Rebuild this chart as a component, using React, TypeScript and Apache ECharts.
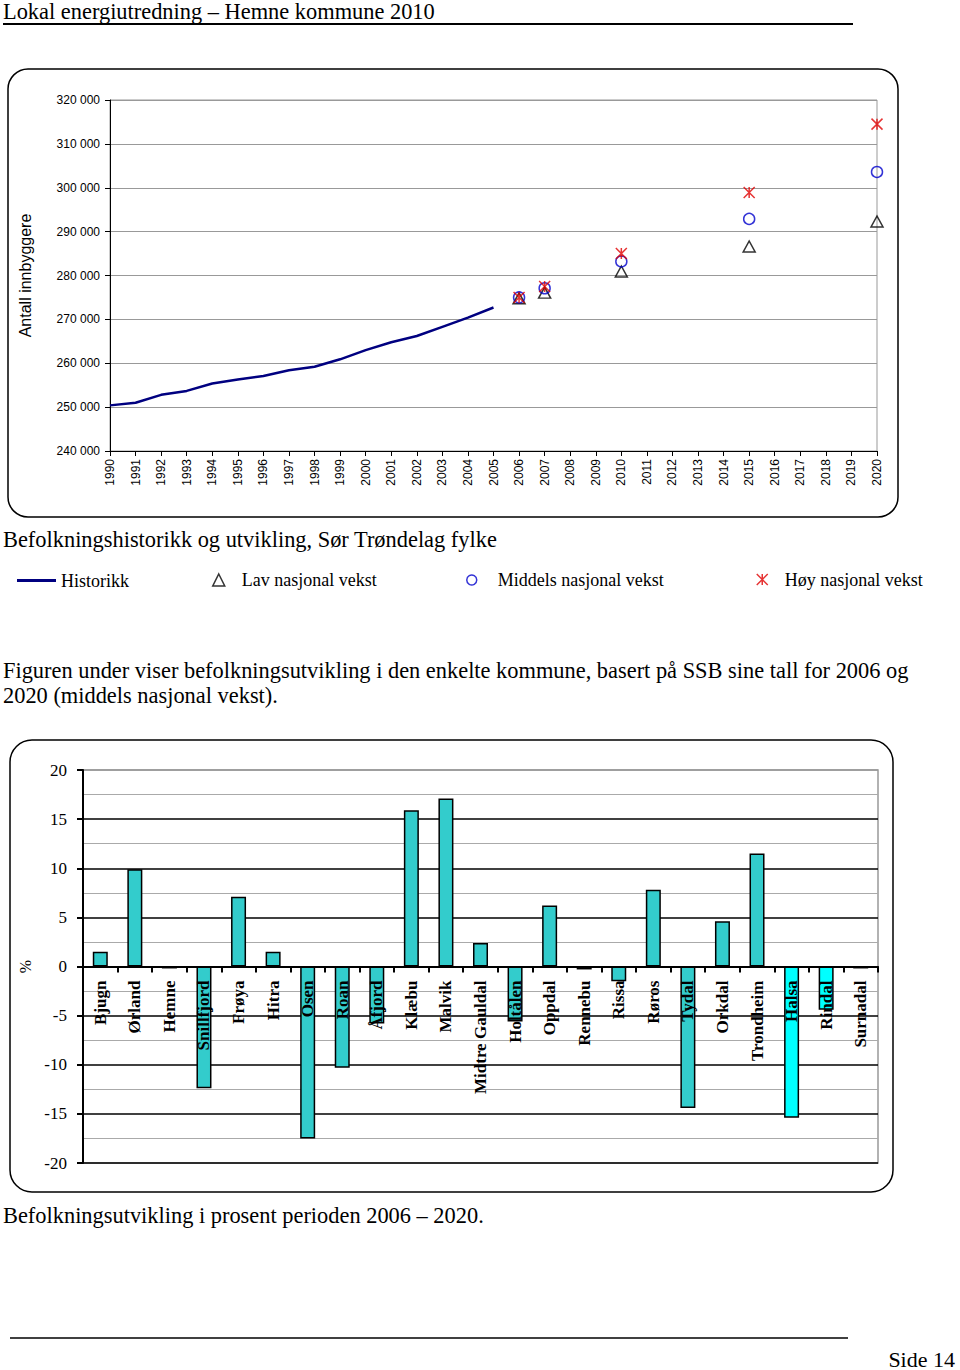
import React, { useEffect, useRef } from "react";
import * as echarts from "echarts";

const aar = ["1990","1991","1992","1993","1994","1995","1996","1997","1998","1999","2000","2001","2002","2003","2004","2005","2006","2007","2008","2009","2010","2011","2012","2013","2014","2015","2016","2017","2018","2019","2020"];
const historikkAar = ["1990","1991","1992","1993","1994","1995","1996","1997","1998","1999","2000","2001","2002","2003","2004","2005"];
const historikk = [250400, 251000, 252800, 253700, 255400, 256300, 257100, 258400, 259200, 260900, 263000, 264800, 266200, 268300, 270400, 272700];
const prognoseAar = ["2006", "2007", "2010", "2015", "2020"];
const lav = [274800, 276100, 280900, 286600, 292300];
const middels = [275000, 277100, 283200, 292900, 303600];
const hoy = [275000, 277500, 285000, 298900, 314500];

const kommuner = ["Bjugn","Ørland","Hemne","Snillfjord","Frøya","Hitra","Osen","Roan","Åfjord","Klæbu","Malvik","Midtre Gauldal","Holtålen","Oppdal","Rennebu","Rissa","Røros","Tydal","Orkdal","Trondheim","Halsa","Rindal","Surnadal"];
const endring = [1.5, 9.9, -0.2, -12.4, 7.1, 1.5, -17.5, -10.3, -5.8, 15.9, 17.1, 2.4, -5.6, 6.2, -0.3, -1.5, 7.8, -14.4, 4.6, 11.5, -15.4, -4.4, -0.2];
const uthevet = ["Halsa", "Rindal"];

const SERIF = '"Liberation Serif", "Times New Roman", serif';
const SANS = '"Liberation Sans", Arial, sans-serif';
const STAR = "path://M0,0L10,10M10,0L0,10M5,0L5,10";
const LINE_ICON = "path://M0,0L40,0L40,3L0,3Z";

function fmt(v: number) {
  return String(v).replace(/\B(?=(\d{3})+(?!\d))/g, " ");
}

export default function App() {
  const ref = useRef<HTMLDivElement>(null);
  useEffect(() => {
    if (!ref.current) return;
    const chart = echarts.init(ref.current, null, { renderer: "svg" });
    const pair = (xs: string[], ys: number[]) => xs.map((x, i) => [x, ys[i]]);
    const legendText = { fontFamily: SERIF, fontSize: 18, color: "#000" };
    const legendAt = (h: number, shift: number) => ({ orient: "horizontal", top: 575 - h / 2 - shift, itemHeight: h, selectedMode: false });
    const gridBottomTop = 770;
    const gridBottomBottom = 1163;
    const zeroOffset = -(gridBottomBottom - gridBottomTop) / 2;
    chart.setOption({
      animation: false,
      backgroundColor: "#fff",
      grid: [
        { left: 110, right: 83, top: 100, bottom: 919, show: true, borderColor: "#999", borderWidth: 1 },
        { left: 83, right: 82, top: gridBottomTop, bottom: 1370 - gridBottomBottom, show: true, borderColor: "#999", borderWidth: 1.5 },
      ],
      xAxis: [
        {
          gridIndex: 0,
          type: "category",
          data: aar,
          boundaryGap: false,
          axisLine: { lineStyle: { color: "#000", width: 1 } },
          axisTick: { show: true, length: 5, lineStyle: { color: "#000" } },
          axisLabel: { rotate: 90, interval: 0, margin: 8, fontFamily: SANS, fontSize: 12, color: "#000" },
          splitLine: { show: false },
        },
        {
          gridIndex: 1,
          type: "category",
          data: kommuner,
          position: "bottom",
          offset: zeroOffset,
          z: 5,
          axisLine: { onZero: false, lineStyle: { color: "#000", width: 2 } },
          axisTick: { show: true, length: 6, alignWithLabel: false, lineStyle: { color: "#000", width: 2 } },
          axisLabel: { rotate: 90, interval: 0, margin: 14, fontFamily: SERIF, fontSize: 17, fontWeight: "bold", color: "#000" },
          splitLine: { show: false },
        },
      ],
      yAxis: [
        {
          gridIndex: 0,
          type: "value",
          min: 240000,
          max: 320000,
          interval: 10000,
          name: "Antall innbyggere",
          nameLocation: "middle",
          nameGap: 77,
          nameRotate: 90,
          nameTextStyle: { fontFamily: SANS, fontSize: 16, color: "#000" },
          axisLine: { show: true, lineStyle: { color: "#000", width: 1 } },
          axisTick: { show: true, length: 5, lineStyle: { color: "#000" } },
          axisLabel: { margin: 10, fontFamily: SANS, fontSize: 12, color: "#000", formatter: (v: number) => fmt(v) },
          splitLine: { show: true, lineStyle: { color: "#999", width: 1 } },
        },
        {
          gridIndex: 1,
          type: "value",
          min: -20,
          max: 20,
          interval: 5,
          name: "%",
          nameLocation: "middle",
          nameGap: 45,
          nameRotate: 90,
          nameTextStyle: { fontFamily: SERIF, fontSize: 16, color: "#000" },
          axisLine: { show: true, lineStyle: { color: "#000", width: 2 } },
          axisTick: { show: true, length: 6, lineStyle: { color: "#000", width: 2 } },
          axisLabel: { margin: 16, fontFamily: SERIF, fontSize: 17, color: "#000" },
          splitLine: { show: true, lineStyle: { color: ["#000", "#000", "#000", "#000", "#000", "#000", "#000", "#000", "#999"], width: 1.5 } },
          minorTick: { show: false, splitNumber: 2 },
          minorSplitLine: { show: true, lineStyle: { color: "#aaa", width: 1 } },
        },
      ],
      legend: [
        { ...legendAt(3, 7), left: 12, itemWidth: 39, data: [{ name: "Historikk", icon: LINE_ICON }], itemStyle: { color: "#000080", borderWidth: 0 }, textStyle: legendText },
        { ...legendAt(12, 3), left: 207, itemWidth: 12, data: [{ name: "Lav nasjonal vekst", icon: "triangle" }], itemStyle: { color: "transparent", borderColor: "#000", borderWidth: 1.5 }, textStyle: { ...legendText, padding: [0, 0, 0, 12] } },
        { ...legendAt(10, 4), left: 461, itemWidth: 10, data: [{ name: "Middels nasjonal vekst", icon: "circle" }], itemStyle: { color: "transparent", borderColor: "#0000cc", borderWidth: 1.5 }, textStyle: { ...legendText, padding: [0, 0, 0, 16] } },
        { ...legendAt(11, 4), left: 751, itemWidth: 11, data: [{ name: "Høy nasjonal vekst", icon: STAR }], itemStyle: { color: "transparent", borderColor: "#e00000", borderWidth: 1.5 }, textStyle: { ...legendText, padding: [0, 0, 0, 12] } },
      ],
      series: [
        {
          name: "Historikk",
          type: "line",
          xAxisIndex: 0,
          yAxisIndex: 0,
          data: pair(historikkAar, historikk),
          symbol: "none",
          lineStyle: { color: "#000080", width: 2.5 },
          itemStyle: { color: "#000080" },
        },
        {
          name: "Lav nasjonal vekst",
          type: "scatter",
          xAxisIndex: 0,
          yAxisIndex: 0,
          data: pair(prognoseAar, lav),
          symbol: "triangle",
          symbolSize: [12, 11],
          itemStyle: { color: "transparent", borderColor: "#000", borderWidth: 1.5 },
        },
        {
          name: "Middels nasjonal vekst",
          type: "scatter",
          xAxisIndex: 0,
          yAxisIndex: 0,
          data: pair(prognoseAar, middels),
          symbol: "circle",
          symbolSize: 11,
          itemStyle: { color: "transparent", borderColor: "#0000cc", borderWidth: 1.5 },
        },
        {
          name: "Høy nasjonal vekst",
          type: "scatter",
          xAxisIndex: 0,
          yAxisIndex: 0,
          data: pair(prognoseAar, hoy),
          symbol: STAR,
          symbolSize: 11,
          itemStyle: { color: "transparent", borderColor: "#e00000", borderWidth: 1.5 },
        },
        {
          name: "Endring",
          type: "bar",
          xAxisIndex: 1,
          yAxisIndex: 1,
          barWidth: 15,
          data: endring.map((v, i) => ({
            value: v,
            itemStyle: { color: uthevet.includes(kommuner[i]) ? "#00ffff" : "#33cccc" },
          })),
          itemStyle: { borderColor: "#000", borderWidth: 1.5 },
        },
      ],
      graphic: [
        { type: "text", x: 3, y: 11, style: { text: "Lokal energiutredning – Hemne kommune 2010", font: `22.4px ${SERIF}`, fill: "#000", verticalAlign: "middle" } },
        { type: "line", shape: { x1: 3, y1: 24, x2: 853, y2: 24 }, style: { stroke: "#000", lineWidth: 2 } },
        { type: "rect", shape: { x: 8, y: 69, width: 890, height: 448, r: 20 }, style: { fill: "none", stroke: "#000", lineWidth: 1.5 } },
        { type: "text", x: 3, y: 539, style: { text: "Befolkningshistorikk og utvikling, Sør Trøndelag fylke", font: `22.4px ${SERIF}`, fill: "#000", verticalAlign: "middle" } },
        { type: "text", x: 3, y: 670, style: { text: "Figuren under viser befolkningsutvikling i den enkelte kommune, basert på SSB sine tall for 2006 og", font: `22.4px ${SERIF}`, fill: "#000", verticalAlign: "middle" } },
        { type: "text", x: 3, y: 695, style: { text: "2020 (middels nasjonal vekst).", font: `22.4px ${SERIF}`, fill: "#000", verticalAlign: "middle" } },
        { type: "rect", shape: { x: 10, y: 740, width: 883, height: 452, r: 22 }, style: { fill: "none", stroke: "#000", lineWidth: 1.5 } },
        { type: "text", x: 3, y: 1215, style: { text: "Befolkningsutvikling i prosent perioden 2006 – 2020.", font: `22.4px ${SERIF}`, fill: "#000", verticalAlign: "middle" } },
        { type: "line", shape: { x1: 10, y1: 1338, x2: 848, y2: 1338 }, style: { stroke: "#000", lineWidth: 1.5 } },
        { type: "text", x: 955, y: 1359, style: { text: "Side 14", font: `22px ${SERIF}`, fill: "#000", align: "right", verticalAlign: "middle" } },
      ],
    });
    return () => chart.dispose();
  }, []);
  return (
    <div style={{ position: "absolute", left: 0, top: 0, width: 960, height: 1370, background: "#fff" }}>
      <div ref={ref} style={{ width: 960, height: 1370 }} />
    </div>
  );
}
